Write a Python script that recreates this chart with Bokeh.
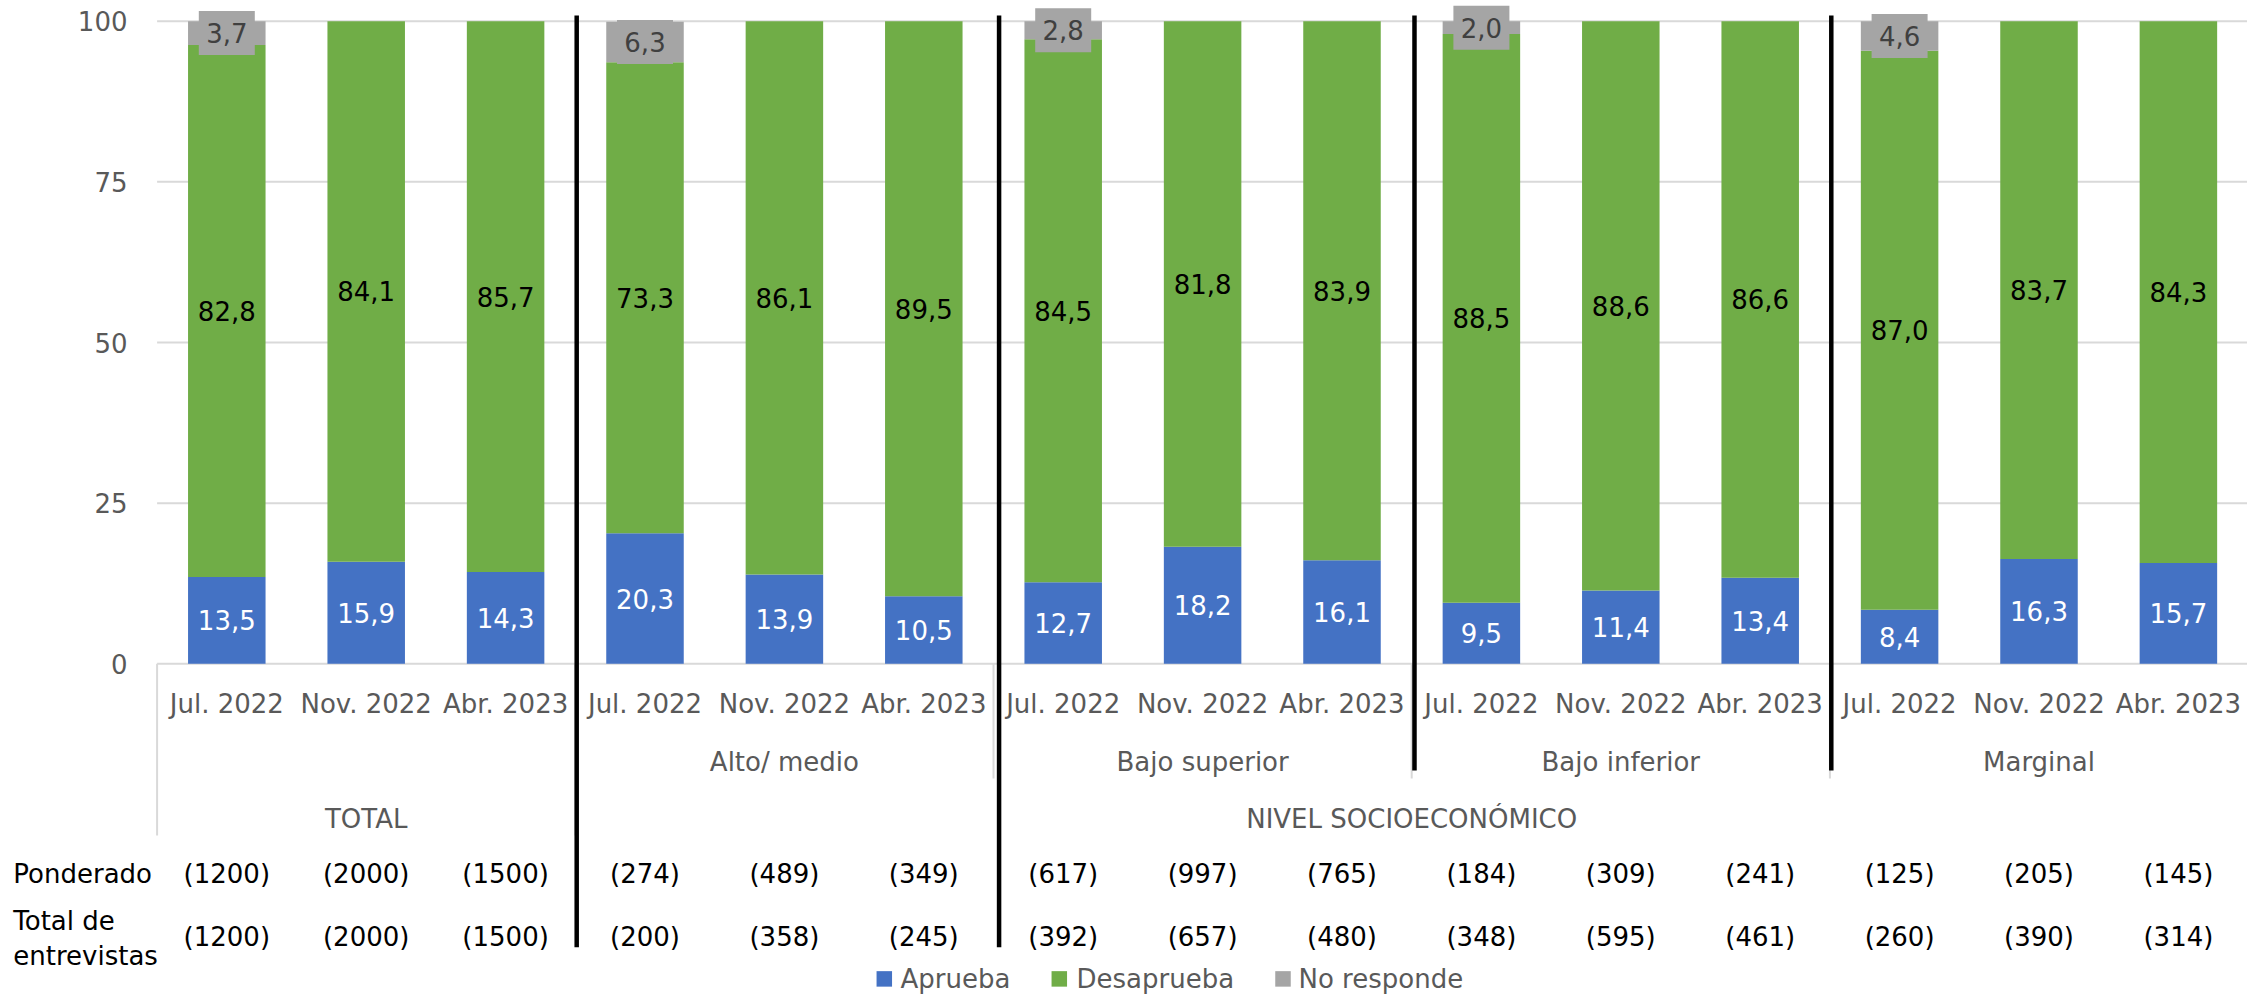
from bokeh.plotting import figure
from bokeh.models import Range1d, ColumnDataSource
from bokeh.embed import file_html
from bokeh.resources import INLINE
from bokeh.core.properties import value

# ---------------- data ----------------
periods = ["Jul. 2022", "Nov. 2022", "Abr. 2023"]
groups = ["TOTAL", "Alto/ medio", "Bajo superior", "Bajo inferior", "Marginal"]
super_group = "NIVEL SOCIOECONÓMICO"
series_names = ["Aprueba", "Desaprueba", "No responde"]
aprueba = [13.5, 15.9, 14.3, 20.3, 13.9, 10.5, 12.7, 18.2, 16.1, 9.5, 11.4, 13.4, 8.4, 16.3, 15.7]
desaprueba = [82.8, 84.1, 85.7, 73.3, 86.1, 89.5, 84.5, 81.8, 83.9, 88.5, 88.6, 86.6, 87.0, 83.7, 84.3]
no_responde = [3.7, 0, 0, 6.3, 0, 0, 2.8, 0, 0, 2.0, 0, 0, 4.6, 0, 0]
ponderado = [1200, 2000, 1500, 274, 489, 349, 617, 997, 765, 184, 309, 241, 125, 205, 145]
entrevistas = [1200, 2000, 1500, 200, 358, 245, 392, 657, 480, 348, 595, 461, 260, 390, 314]
row_labels = ["Ponderado", "Total de", "entrevistas"]
y_ticks = [0, 25, 50, 75, 100]

# ---------------- layout (canvas pixels) ----------------
W, H = 2247, 996
CAT_PX = 139.4      # width of one category
FIRST_PX = 226.3    # centre of first category
ZERO_PX = 663.3     # y pixel of value 0
UNIT_PX = 6.426     # pixels per percentage point


def dx(px):
    return (px - FIRST_PX) / CAT_PX


def dy(px):
    return (ZERO_PX - px) / UNIT_PX


FONT = value("DejaVu Sans")
FS = value("26px")
AXIS_GRAY = "#595959"
LINE_GRAY = "#D9D9D9"
COLORS = ["#4472C4", "#70AD47", "#A5A5A5"]

p = figure(width=W, height=H, x_range=Range1d(dx(0), dx(W)), y_range=Range1d(dy(H), dy(0)),
           output_backend="svg", toolbar_location=None, x_axis_type=None, y_axis_type=None,
           min_border=0, outline_line_color=None)
p.background_fill_color = "white"
p.border_fill_color = "white"

n = len(aprueba)
xs = list(range(n))
x_right = dx(W) + 1

# gridlines + y tick labels
p.segment(x0=[-0.5] * len(y_ticks), y0=y_ticks, x1=[x_right] * len(y_ticks), y1=y_ticks,
          line_color=LINE_GRAY, line_width=2)
p.text(x=[dx(127)] * len(y_ticks), y=y_ticks, text=[str(t) for t in y_ticks],
       text_align="right", text_baseline="middle", text_font=FONT, text_font_size=FS,
       text_color=AXIS_GRAY)

# category-axis separators (light gray)
edges = [-0.5] + [3 * g + 2.5 for g in range(len(groups))]
edge_bottom = [dy(835) if e in (-0.5, 2.5, edges[-1]) else dy(778) for e in edges]
p.segment(x0=edges, y0=[0] * len(edges), x1=edges, y1=edge_bottom,
          line_color=LINE_GRAY, line_width=2)

# bars
src = ColumnDataSource({"x": xs, "Aprueba": aprueba, "Desaprueba": desaprueba,
                        "No responde": no_responde})
p.vbar_stack(series_names, x="x", width=0.556, fill_color=COLORS, line_color=None, source=src)


def fmt(v):
    return f"{v:.1f}".replace(".", ",")


blue_y = [a / 2 for a in aprueba]
green_y = [a + d / 2 for a, d in zip(aprueba, desaprueba)]
p.text(x=xs, y=blue_y, text=[fmt(v) for v in aprueba], text_align="center",
       text_baseline="middle", text_font=FONT, text_font_size=FS, text_color="white")
p.text(x=xs, y=green_y, text=[fmt(v) for v in desaprueba], text_align="center",
       text_baseline="middle", text_font=FONT, text_font_size=FS, text_color="black")

nr_idx = [i for i, v in enumerate(no_responde) if v > 0]
nr_x = [xs[i] for i in nr_idx]
nr_y = [aprueba[i] + desaprueba[i] + no_responde[i] / 2 for i in nr_idx]
p.rect(x=nr_x, y=nr_y, width=56, height=44, width_units="screen", height_units="screen",
       fill_color=COLORS[2], line_color=None)
p.text(x=nr_x, y=nr_y, text=[fmt(no_responde[i]) for i in nr_idx], text_align="center",
       text_baseline="middle", text_font=FONT, text_font_size=FS, text_color="#404040")

# black group separators
sep_x = [2.51, 5.54, 8.52, 11.51]
sep_bottom = [dy(946.7), dy(946.7), dy(770), dy(770)]
p.segment(x0=sep_x, y0=[dy(15)] * 4, x1=sep_x, y1=sep_bottom, line_color="black", line_width=4.5)

# category labels
p.text(x=xs, y=[dy(703)] * n, text=periods * len(groups), text_align="center",
       text_baseline="middle", text_font=FONT, text_font_size=FS, text_color=AXIS_GRAY)
p.text(x=[3 * g + 1 for g in range(1, len(groups))], y=[dy(761.7)] * (len(groups) - 1),
       text=groups[1:], text_align="center", text_baseline="middle", text_font=FONT,
       text_font_size=FS, text_color=AXIS_GRAY)
p.text(x=[1, (3 + n - 1) / 2], y=[dy(818.3)] * 2, text=[groups[0], super_group],
       text_align="center", text_baseline="middle", text_font=FONT, text_font_size=FS,
       text_color=AXIS_GRAY)

# sample-size table
p.text(x=[dx(12.8)] * 3, y=[dy(873.3), dy(920), dy(955)], text=row_labels, text_align="left",
       text_baseline="middle", text_font=FONT, text_font_size=FS, text_color="black")
p.text(x=xs, y=[dy(873.3)] * n, text=[f"({v})" for v in ponderado], text_align="center",
       text_baseline="middle", text_font=FONT, text_font_size=FS, text_color="black")
p.text(x=xs, y=[dy(936.7)] * n, text=[f"({v})" for v in entrevistas], text_align="center",
       text_baseline="middle", text_font=FONT, text_font_size=FS, text_color="black")

# legend
leg_sq_px = [883.8, 1058.8, 1282.5]
leg_tx_px = [900, 1076, 1298]
leg_y = dy(978.4)
p.rect(x=[dx(v) for v in leg_sq_px], y=[leg_y] * 3, width=15.5, height=15.5,
       width_units="screen", height_units="screen", fill_color=COLORS, line_color=None)
p.text(x=[dx(v) for v in leg_tx_px], y=[leg_y] * 3, text=series_names, text_align="left",
       text_baseline="middle", text_font=FONT, text_font_size=FS, text_color=AXIS_GRAY)

open("out.html", "w").write(file_html(p, INLINE))
